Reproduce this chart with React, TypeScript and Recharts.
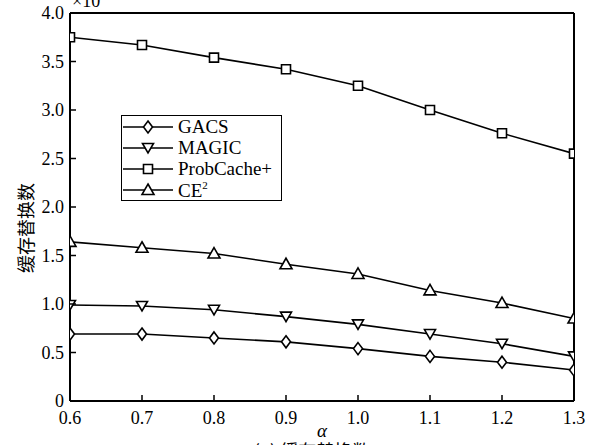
import {
  Customized,
  Line,
  LineChart,
  ReferenceLine,
  XAxis,
  YAxis,
} from 'recharts'

const alpha = [0.6, 0.7, 0.8, 0.9, 1.0, 1.1, 1.2, 1.3]
const gacs = [0.69, 0.69, 0.65, 0.61, 0.54, 0.46, 0.4, 0.32]
const magic = [0.99, 0.98, 0.94, 0.87, 0.79, 0.69, 0.59, 0.46]
const probCache = [3.75, 3.67, 3.54, 3.42, 3.25, 3.0, 2.76, 2.55]
const ce2 = [1.64, 1.58, 1.52, 1.41, 1.31, 1.14, 1.01, 0.85]
const yTicks = [0, 0.5, 1.0, 1.5, 2.0, 2.5, 3.0, 3.5, 4.0]

const data = alpha.map((a, i) => ({
  alpha: a,
  gacs: gacs[i],
  magic: magic[i],
  probCache: probCache[i],
  ce2: ce2[i],
}))

const SERIF = '"Liberation Serif", "Times New Roman", serif'
const CJK = '"Noto Sans CJK SC", sans-serif'

type Shape = 'diamond' | 'down' | 'square' | 'up'

function markerPath(shape: Shape, cx: number, cy: number): string {
  switch (shape) {
    case 'diamond':
      return `M${cx},${cy - 6} L${cx + 4.5},${cy} L${cx},${cy + 6} L${cx - 4.5},${cy} Z`
    case 'down':
      return `M${cx - 5.5},${cy - 4.5} L${cx + 5.5},${cy - 4.5} L${cx},${cy + 5} Z`
    case 'square':
      return `M${cx - 4.5},${cy - 4.5} h9 v9 h-9 Z`
    case 'up':
    default:
      return `M${cx},${cy - 6} L${cx + 6},${cy + 4.5} L${cx - 6},${cy + 4.5} Z`
  }
}

function makeDot(shape: Shape) {
  return (props: { cx?: number; cy?: number; index?: number }) => {
    const { cx, cy, index } = props
    if (cx == null || cy == null) return <g key={`e-${shape}-${index}`} />
    return (
      <path
        key={`${shape}-${index}`}
        d={markerPath(shape, cx, cy)}
        fill="#fff"
        stroke="#000"
        strokeWidth={1.6}
      />
    )
  }
}

const series: { key: string; name: React.ReactNode; shape: Shape }[] = [
  { key: 'gacs', name: 'GACS', shape: 'diamond' },
  { key: 'magic', name: 'MAGIC', shape: 'down' },
  { key: 'probCache', name: 'ProbCache+', shape: 'square' },
  {
    key: 'ce2',
    name: (
      <span>
        CE<sup style={{ fontSize: 11, verticalAlign: 'top', lineHeight: 1 }}>2</sup>
      </span>
    ),
    shape: 'up',
  },
]

function XTick(props: { x?: number; y?: number; payload?: { value: number } }) {
  const { x = 0, y = 0, payload } = props
  return (
    <g>
      <line x1={x} y1={y} x2={x} y2={y - 6} stroke="#000" strokeWidth={1.5} />
      <text x={x} y={y + 23} textAnchor="middle" fontFamily={SERIF} fontSize={18} fill="#000">
        {payload ? payload.value.toFixed(1) : ''}
      </text>
    </g>
  )
}

function YTick(props: { x?: number; y?: number; payload?: { value: number } }) {
  const { x = 0, y = 0, payload } = props
  const v = payload ? payload.value : 0
  return (
    <g>
      <line x1={x} y1={y} x2={x + 6} y2={y} stroke="#000" strokeWidth={1.5} />
      <text x={x - 6} y={y + 6} textAnchor="end" fontFamily={SERIF} fontSize={18} fill="#000">
        {v === 0 ? '0' : v.toFixed(1)}
      </text>
    </g>
  )
}

function LegendBox() {
  return (
    <div
      style={{
        position: 'absolute',
        left: 121,
        top: 115,
        width: 161,
        height: 86,
        boxSizing: 'border-box',
        border: '1.5px solid #000',
        background: '#fff',
        fontFamily: SERIF,
        fontSize: 19,
        color: '#000',
      }}
    >
      {series.map((s) => (
        <div
          key={s.key}
          style={{ display: 'flex', alignItems: 'center', height: 21.2, lineHeight: '21px' }}
        >
          <svg width={56} height={20} style={{ display: 'block' }}>
            <line x1={1} y1={10} x2={51} y2={10} stroke="#000" strokeWidth={1.6} />
            <path d={markerPath(s.shape, 26, 10)} fill="#fff" stroke="#000" strokeWidth={1.6} />
          </svg>
          <span>{s.name}</span>
        </div>
      ))}
    </div>
  )
}

function Texts() {
  return (
    <g>
      <text x={72} y={7} fontFamily={SERIF} fontSize={18} fill="#000">
        ×10<tspan dy={-7} fontSize={12}>4</tspan>
      </text>
      <text
        x={25}
        y={228}
        transform="rotate(-90 25 228)"
        textAnchor="middle"
        dominantBaseline="central"
        fontFamily={CJK}
        fontSize={18}
        fill="#000"
      >
        缓存替换数
      </text>
      <text x={322} y={437} textAnchor="middle" fontFamily={SERIF} fontStyle="italic" fontSize={19} fill="#000">
        α
      </text>
      <text x={312} y={458} textAnchor="middle" fontFamily={CJK} fontSize={18} fill="#000">
        (a) 缓存替换数
      </text>
    </g>
  )
}

export default function App() {
  return (
    <div style={{ position: 'absolute', left: 0, top: 0, width: 598, height: 445, background: '#fff' }}>
      <LineChart
        width={598}
        height={445}
        data={data}
        margin={{ top: 13, right: 24, bottom: 14, left: 0 }}
      >
        <XAxis
          dataKey="alpha"
          type="number"
          domain={[0.6, 1.3]}
          ticks={alpha}
          interval={0}
          height={30}
          tickSize={0}
          tickMargin={0}
          tickLine={false}
          axisLine={{ stroke: '#000', strokeWidth: 2 }}
          tick={<XTick />}
          allowDataOverflow
        />
        <YAxis
          type="number"
          domain={[0, 4]}
          ticks={yTicks}
          interval={0}
          width={70}
          tickSize={0}
          tickMargin={0}
          tickLine={false}
          axisLine={{ stroke: '#000', strokeWidth: 2 }}
          tick={<YTick />}
          allowDataOverflow
        />
        <ReferenceLine y={4} stroke="#000" strokeWidth={2} />
        <ReferenceLine x={1.3} stroke="#000" strokeWidth={2} />
        {series.map((s) => (
          <Line
            key={s.key}
            dataKey={s.key}
            type="linear"
            stroke="#000"
            strokeWidth={1.6}
            dot={makeDot(s.shape)}
            activeDot={false}
            isAnimationActive={false}
          />
        ))}
        <Customized component={Texts} />
      </LineChart>
      <LegendBox />
    </div>
  )
}
